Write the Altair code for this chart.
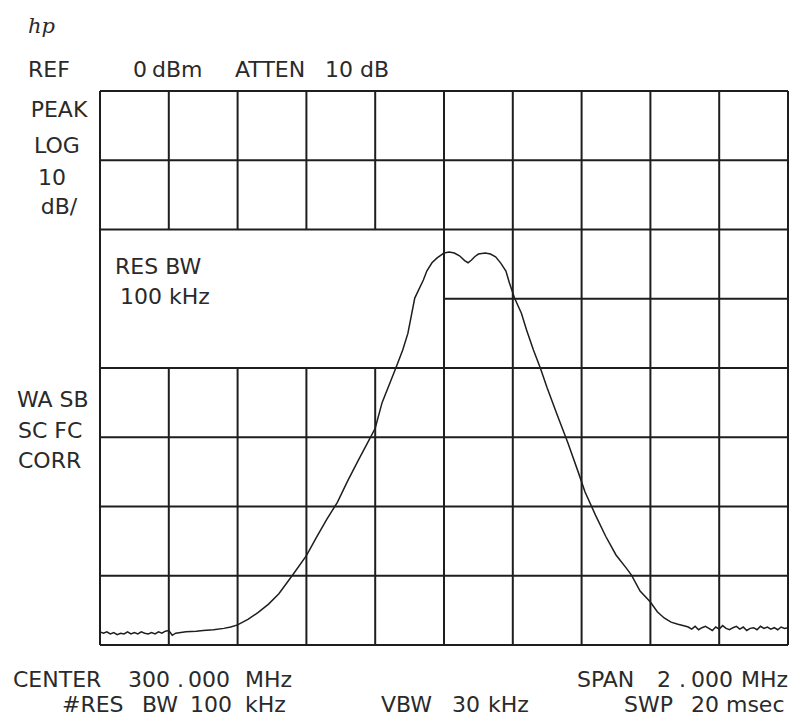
import altair as alt
import pandas as pd

# ---- axis / grid definition (data units) ----
X_MIN, X_MAX = 299.0, 301.0          # MHz (center 300, span 2 MHz)
Y_MIN, Y_MAX = -80.0, 0.0            # dB (ref 0 dBm, 10 dB/div)
grid_x = [299.0, 299.2, 299.4, 299.6, 299.8, 300.0, 300.2, 300.4, 300.6, 300.8, 301.0]
grid_y = [0, -10, -20, -30, -40, -50, -60, -70, -80]
# annotation box inside the graticule (grid lines interrupted there)
box_x = [299.0, 300.0]
box_y = [-40, -20]

# ---- measured trace ----
freq = [
    299.00, 299.01, 299.02, 299.03, 299.04, 299.05, 299.06, 299.07, 299.08, 299.09,
    299.10, 299.11, 299.12, 299.13, 299.14, 299.15, 299.16, 299.17, 299.18, 299.19,
    299.20, 299.21, 299.22, 299.25, 299.28, 299.30, 299.33, 299.36, 299.38, 299.40,
    299.43, 299.46, 299.49, 299.52, 299.56, 299.60, 299.63, 299.66, 299.69, 299.72,
    299.75, 299.78, 299.80, 299.82, 299.86, 299.88, 299.895, 299.915, 299.94, 299.95,
    299.965, 299.98, 300.00, 300.015, 300.03, 300.045, 300.06, 300.07, 300.08, 300.09,
    300.10, 300.12, 300.135, 300.15, 300.165, 300.18, 300.19, 300.205, 300.225, 300.24,
    300.26, 300.28, 300.30, 300.33, 300.36, 300.39, 300.41, 300.44, 300.47, 300.50,
    300.53, 300.545, 300.57, 300.60, 300.62, 300.64, 300.66, 300.68, 300.70,
    300.71, 300.72, 300.73, 300.74, 300.75, 300.76, 300.77, 300.78, 300.79, 300.80,
    300.81, 300.82, 300.83, 300.84, 300.85, 300.86, 300.87, 300.88, 300.89, 300.90,
    300.91, 300.92, 300.93, 300.94, 300.95, 300.96, 300.97, 300.98, 300.99, 301.00,
]
level = [
    -78.1, -78.3, -78.1, -78.4, -78.2, -78.5, -78.3, -78.4, -78.1, -78.4,
    -78.2, -78.4, -78.1, -78.3, -78.4, -78.2, -78.4, -78.1, -78.3, -78.0,
    -77.9, -78.6, -78.3, -78.1, -78.0, -77.9, -77.8, -77.6, -77.4, -77.1,
    -76.3, -75.3, -74.1, -72.6, -69.9, -67.1, -64.4, -61.8, -59.4, -56.3,
    -53.4, -50.6, -48.7, -45.0, -40.0, -37.4, -35.0, -29.9, -27.3, -26.0,
    -24.8, -24.1, -23.4, -23.25, -23.4, -23.8, -24.5, -24.8, -24.4, -23.9,
    -23.55, -23.4, -23.55, -23.95, -24.85, -26.0, -27.7, -29.9, -32.1, -34.5,
    -37.4, -40.0, -42.9, -46.9, -50.8, -55.0, -57.9, -61.2, -64.3, -67.0,
    -68.9, -69.9, -72.2, -73.8, -75.2, -76.1, -76.7, -77.0, -77.26,
    -77.4, -77.7, -77.3, -77.8, -77.5, -77.3, -77.6, -77.9, -77.4, -77.7,
    -77.2, -77.6, -77.8, -77.5, -77.3, -77.7, -77.4, -77.9, -77.6, -77.5,
    -77.8, -77.3, -77.6, -77.4, -77.7, -77.5, -77.8, -77.4, -77.6, -77.5,
]

# ---- screen annotations (data units; positions outside the graticule extrapolate) ----
left_labels = [
    "REF", "0", "dBm", "ATTEN", "10 dB",
    "RES BW", "100 kHz",
    "WA SB", "SC FC", "CORR",
    "CENTER", "300", ".", "000", "MHz",
    "SPAN", "2", ".", "000", "MHz",
    "#RES", "BW", "100", "kHz",
    "VBW", "30", "kHz",
    "SWP", "20 msec",
]
left_x = [
    298.7907, 299.0959, 299.1512, 299.3924, 299.6541,
    299.0436, 299.0581,
    298.7587, 298.7616, 298.7616,
    298.7471, 299.0814, 299.2238, 299.2558, 299.4215,
    300.3866, 300.6192, 300.6831, 300.7180, 300.8634,
    298.8895, 299.1221, 299.2616, 299.4215,
    299.8169, 300.0233, 300.1279,
    300.5233, 300.7180,
]
left_y = [
    3.0, 3.0, 3.0, 3.0, 3.0,
    -25.4, -29.75,
    -44.6, -49.1, -53.4,
    -85.1, -85.1, -85.1, -85.1, -85.1,
    -85.0, -85.0, -85.0, -85.0, -85.0,
    -88.6, -88.6, -88.6, -88.6,
    -88.6, -88.6, -88.6,
    -88.6, -88.6,
]

center_labels = ["PEAK", "LOG", "10", "dB/"]
center_x = [298.8808, 298.875, 298.8605, 298.8808]
center_y = [-2.74, -7.94, -12.56, -16.75]

logo_label = ["hp"]
logo_x = [298.7907]
logo_y = [9.2]

# ---- build grid segments ----
segs = []
for gx in grid_x:
    if box_x[0] < gx < box_x[1]:
        segs.append(dict(x=gx, x2=gx, y=Y_MIN, y2=box_y[0]))
        segs.append(dict(x=gx, x2=gx, y=box_y[1], y2=Y_MAX))
    else:
        segs.append(dict(x=gx, x2=gx, y=Y_MIN, y2=Y_MAX))
for gy in grid_y:
    if box_y[0] < gy < box_y[1]:
        segs.append(dict(x=box_x[1], x2=X_MAX, y=gy, y2=gy))
    else:
        segs.append(dict(x=X_MIN, x2=X_MAX, y=gy, y2=gy))
grid_df = pd.DataFrame(segs)

trace_df = pd.DataFrame({"f": freq, "dB": level})

xs = alt.Scale(domain=[X_MIN, X_MAX], nice=False, zero=False)
ys = alt.Scale(domain=[Y_MIN, Y_MAX], nice=False, zero=False)

INK = "#1e1e1e"
TXT = "#2a2a2a"
FONT = "DejaVu Sans"
FS = 22

grid = alt.Chart(grid_df).mark_rule(color=INK, strokeWidth=2).encode(
    x=alt.X("x:Q", scale=xs, axis=None),
    x2="x2:Q",
    y=alt.Y("y:Q", scale=ys, axis=None),
    y2="y2:Q",
)

trace = alt.Chart(trace_df).mark_line(color=INK, strokeWidth=1.5).encode(
    x=alt.X("f:Q", scale=xs, axis=None),
    y=alt.Y("dB:Q", scale=ys, axis=None),
)

def text_layer(labels, xv, yv, align, font=FONT, size=FS, style="normal"):
    df = pd.DataFrame({"t": labels, "x": xv, "y": yv})
    return alt.Chart(df).mark_text(
        align=align, baseline="middle", font=font, fontSize=size,
        fontStyle=style, color=TXT,
    ).encode(
        x=alt.X("x:Q", scale=xs, axis=None),
        y=alt.Y("y:Q", scale=ys, axis=None),
        text="t:N",
    )

t_left = text_layer(left_labels, left_x, left_y, "left")
t_center = text_layer(center_labels, center_x, center_y, "center")
t_logo = text_layer(logo_label, logo_x, logo_y, "left", font="DejaVu Serif",
                    size=21, style="italic")

chart = alt.layer(grid, trace, t_left, t_center, t_logo).properties(
    width=688,
    height=554,
    padding={"left": 92, "top": 83, "right": 1, "bottom": 72},
    autosize=alt.AutoSizeParams(type="none"),
    background="white",
).configure_view(stroke=None)

chart.save("out.html", embed_options={"renderer": "svg", "actions": False})
